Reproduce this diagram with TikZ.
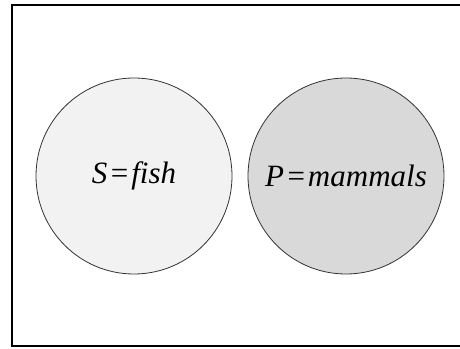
\documentclass[tikz,border=0pt]{standalone}
\usepackage{fontspec}
\setmainfont{Liberation Serif}
\begin{document}
\begin{tikzpicture}[
   x=1pt, y=1pt,
   every node/.style={circle, draw=black!80, line width=0.8pt,
                      minimum size=196pt, inner sep=0pt},
   set label/.style={font=\fontsize{31}{37}\selectfont\itshape}]

\useasboundingbox (0,0) rectangle (460,348);
\clip (0,0) rectangle (460,348);
\draw[line width=2pt] (12,2) rectangle (520,343);

\node[fill=black!5, set label] (fish) at (134,172) {S\kern1.5pt=\kern1.5pt fish};
\node[fill=black!15, set label] (mammals) at (346,172) {P\kern1.5pt=\kern1.5pt mammals};

\end{tikzpicture}
\end{document}
